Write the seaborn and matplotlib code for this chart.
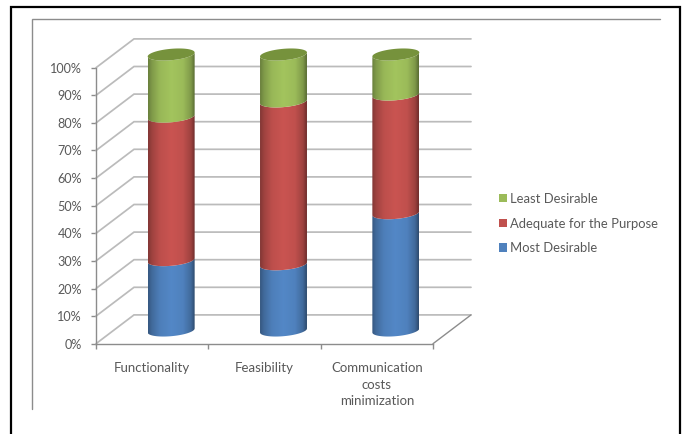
import numpy as np
import pandas as pd
import matplotlib
matplotlib.use("Agg")
import matplotlib.pyplot as plt
import seaborn as sns
from matplotlib.lines import Line2D
from matplotlib.patches import PathPatch, Patch
from matplotlib.path import Path

categories = ["Functionality", "Feasibility", "Communication\ncosts\nminimization"]
most_desirable = [25.5, 24.0, 42.5]
adequate = [52.0, 59.0, 43.0]
least_desirable = [22.5, 17.0, 14.5]
series_names = ["Most Desirable", "Adequate for the Purpose", "Least Desirable"]
series_colors = ["#4F81BD", "#C0504D", "#9BBB59"]
cap_color = "#76923C"
y_ticks = list(range(0, 101, 10))
text_color = "#595959"
grid_color = "#BBBBBB"
axis_color = "#8C8C8C"

W, H = 686, 434
sns.set_theme(style="white")
plt.rcParams["font.family"] = ["Lato", "DejaVu Sans"]
fig = plt.figure(figsize=(W / 100, H / 100), dpi=100, facecolor="white")


def box(left, right, top, bottom):
    return [left / W, 1 - bottom / H, (right - left) / W, (bottom - top) / H]


# Front plane of the 3-D box carries the axis lines and tick labels.
front = fig.add_axes(box(96, 433, 67.7, 343.7), facecolor="none", zorder=1)
front.set_xlim(-0.5, 2.5)
front.set_ylim(0, 100)
front.set_xticks([-0.5, 0.5, 1.5, 2.5])
front.set_xticklabels([])
front.set_xticks([0, 1, 2], labels=categories, minor=True)
front.set_yticks(y_ticks, labels=[f"{v}%" for v in y_ticks])
front.tick_params(axis="y", length=3.6, width=1, color=axis_color, labelcolor=text_color,
                  labelsize=9.1, pad=6.5, left=True)
front.tick_params(axis="x", which="major", length=3.6, width=1, color=axis_color, bottom=True)
front.tick_params(axis="x", which="minor", length=0, labelcolor=text_color, labelsize=9.5, pad=13.5)
for label in front.get_xticklabels(minor=True):
    label.set_linespacing(1.43)
for name, spine in front.spines.items():
    spine.set_visible(name in ("left", "bottom"))
    spine.set_color(axis_color)
    spine.set_linewidth(1)

# Side wall and back wall gridlines, offset by the chart depth.
dx = 38 / (337 / 3)
dy = 28.8 / 2.76
for v in y_ticks:
    front.plot([-0.5, -0.5 + dx, 2.5 + dx], [v, v + dy, v + dy], color=grid_color,
               lw=1.25, clip_on=False, zorder=1, solid_joinstyle="miter")
front.plot([2.5, 2.5 + dx], [0, dy], color=axis_color, lw=1, clip_on=False, zorder=1)

# Mid-depth plane carries the stacked columns.
ax = fig.add_axes(box(115, 452, 54.5, 330.5), facecolor="none", zorder=2)
frame = pd.DataFrame({"category": categories, "Most": most_desirable,
                      "Adequate": adequate, "Least": least_desirable})
base = np.zeros(len(categories))
for column, color in zip(["Most", "Adequate", "Least"], series_colors):
    sns.barplot(data=frame, x="category", y=column, bottom=base, color=color,
                width=0.418, ax=ax, saturation=1)
    base = base + frame[column].to_numpy()
ax.set_xlim(-0.5, 2.5)
ax.set_ylim(0, 100)
ax.axis("off")

shade = np.interp(np.linspace(0, 1, 96),
                  [0, 0.08, 0.25, 0.5, 0.75, 0.92, 1],
                  [0.68, 0.82, 0.98, 1.05, 1.0, 0.82, 0.58])
theta = np.linspace(np.pi, 0, 40)
half_h = 5.7 / 2.76
tilt = 2.0 / 2.76


def front_arc(cx, half_w, level, angles):
    return np.column_stack([cx + half_w * np.cos(angles),
                            level - half_h * np.sin(angles) + tilt * np.cos(angles)])


n_cat = len(categories)
patches = list(ax.patches)
for i, bar in enumerate(patches):
    bar.set_visible(False)
    rgb = np.array(matplotlib.colors.to_rgb(series_colors[i // n_cat]))
    x0, w, y0, h = bar.get_x(), bar.get_width(), bar.get_y(), bar.get_height()
    cx, half_w = x0 + w / 2, w / 2
    outline = np.vstack([front_arc(cx, half_w, y0, theta),
                         front_arc(cx, half_w, y0 + h, theta[::-1])])
    clip = PathPatch(Path(np.vstack([outline, outline[0]]), closed=True),
                     transform=ax.transData, facecolor="none", edgecolor="none", clip_on=False)
    ax.add_patch(clip)
    gradient = np.clip(rgb[None, None, :] * shade[None, :, None], 0, 1)
    image = ax.imshow(gradient, extent=(x0, x0 + w, y0 - half_h - 2, y0 + h + 2),
                      aspect="auto", zorder=3 + i // n_cat, interpolation="bilinear")
    image.set_clip_box(fig.bbox)
    image.set_clip_path(clip)
    if i // n_cat == 2:
        angles = np.linspace(0, 2 * np.pi, 80)
        ax.fill(*front_arc(cx, half_w, y0 + h, angles).T, color=cap_color, lw=0, zorder=8,
                clip_on=False)
ax.set_xlim(-0.5, 2.5)
ax.set_ylim(0, 100)

handles = [Patch(facecolor=c, edgecolor="none") for c in series_colors[::-1]]
legend = fig.legend(handles, series_names[::-1], loc="center left",
                    bbox_to_anchor=(494.8 / W, 1 - 223.5 / H), frameon=False, fontsize=9.4,
                    labelcolor=text_color, handlelength=0.62, handleheight=0.62,
                    handletextpad=0.28, labelspacing=0.97, borderpad=0.3, borderaxespad=0)

# Outer black frame and the grey chart-area outline, both open at the bottom.
for xs, ys, color, lw in [
    ([11, 11, 680, 680], [434, 7, 7, 434], "black", 1.6),
    ([32.3, 32.3, 660], [408.7, 18.7, 18.7], "#8C8C8C", 1.0),
]:
    fig.add_artist(Line2D(np.array(xs) / W, 1 - np.array(ys) / H, color=color, lw=lw,
                          solid_joinstyle="miter"))

fig.savefig("out.png", dpi=100, facecolor="white")
